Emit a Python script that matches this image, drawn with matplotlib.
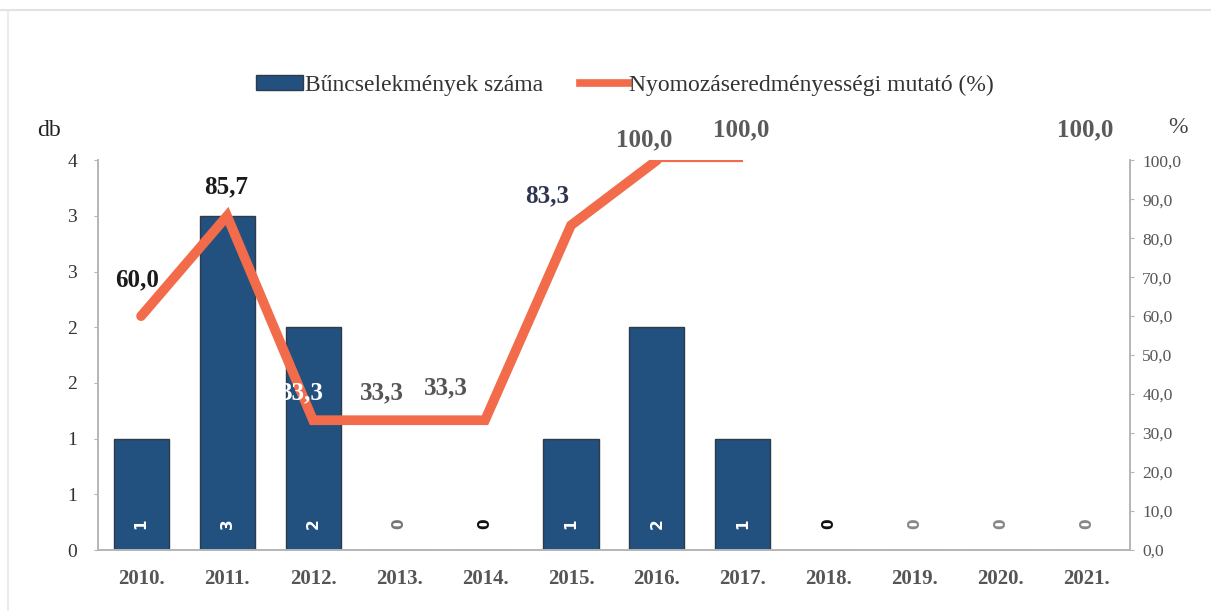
"""Bűncselekmények száma és nyomozáseredményességi mutató, 2010-2021."""

import numpy as np
import matplotlib

matplotlib.use("Agg")
import matplotlib.pyplot as plt
from matplotlib.lines import Line2D
from matplotlib.patches import Patch

years = ["2010.", "2011.", "2012.", "2013.", "2014.", "2015.",
         "2016.", "2017.", "2018.", "2019.", "2020.", "2021."]
counts = [1, 3, 2, 0, 0, 1, 2, 1, 0, 0, 0, 0]
rate = [60.0, 85.7, 33.3, 33.3, 33.3, 83.3, 100.0, 100.0,
        np.nan, np.nan, np.nan, 100.0]

left_ticks = [0, 0.5, 1.0, 1.5, 2.0, 2.5, 3.0, 3.5]
left_labels = ["0", "1", "1", "2", "2", "3", "3", "4"]
right_ticks = [0, 10, 20, 30, 40, 50, 60, 70, 80, 90, 100]

# label offsets (points) and colours for the rate labels
rate_offsets = [(-3, 26), (-1, 21), (-8, 20), (-12, 20), (-28, 23), (-17, 21),
                (-9, 15), (-1, 22), (0, 0), (0, 0), (0, 0), (-1, 22)]
rate_colors = ["#1a1a1a", "#1a1a1a", "white", "#555555", "#555555", "#2f3550",
               "#5a5a5a", "#5a5a5a", "k", "k", "k", "#5a5a5a"]
count_colors = ["white", "white", "white", "#777777", "#111111", "white",
                "white", "white", "#111111", "#888888", "#888888", "#888888"]

plt.rcParams.update({
    "font.family": ["Liberation Serif", "DejaVu Serif"],
    "font.size": 12,
})

bar_color = "#22507f"
line_color = "#f26b4a"
grey = "#b5b5b5"

fig = plt.figure(figsize=(12.11, 6.11), dpi=100)
ax = fig.add_axes([0.081, 0.0998, 0.852, 0.638])
ax2 = ax.twinx()

x = np.arange(len(years))
ax.bar(x, counts, width=0.64, color=bar_color, edgecolor="#2e3b4a",
       linewidth=1.0, zorder=2)

for xi, c, col in zip(x, counts, count_colors):
    ax.text(xi, 0.24, str(c), rotation=90, ha="center", va="center",
            color=col, fontsize=11, fontweight="bold", family="DejaVu Sans",
            zorder=4)

ax.set_xlim(-0.5, len(years) - 0.5)
ax.set_ylim(0, 3.5)
ax.set_yticks(left_ticks)
ax.set_yticklabels(left_labels)
ax.set_xticks(x)
ax.set_xticklabels(years, fontweight="bold", color="#555555", fontsize=15)
ax.tick_params(axis="x", length=0, pad=14)
ax.tick_params(axis="y", length=3, color=grey, labelcolor="#333333",
               labelsize=14, pad=12)

ax2.set_ylim(0, 100)
ax2.set_yticks(right_ticks)
ax2.set_yticklabels([f"{v:.1f}".replace(".", ",") for v in right_ticks])
ax2.tick_params(axis="y", length=3, color=grey, labelcolor="#555555",
                labelsize=12.5, pad=6)

for a in (ax, ax2):
    a.spines["top"].set_visible(False)
    for s in ("left", "right", "bottom"):
        a.spines[s].set_color(grey)
        a.spines[s].set_linewidth(1.2)

# thick line up to 2016, thinner segment 2016-2017
ax2.plot(x[:7], rate[:7], color=line_color, linewidth=7,
         solid_capstyle="round", solid_joinstyle="miter", zorder=3)
ax2.plot(x[6:8], rate[6:8], color=line_color, linewidth=3.0,
         solid_capstyle="butt", zorder=3)

for xi, v, off, col in zip(x, rate, rate_offsets, rate_colors):
    if np.isnan(v):
        continue
    ax2.annotate(f"{v:.1f}".replace(".", ","), (xi, v), xytext=off,
                 textcoords="offset points", ha="center", va="center",
                 fontsize=18, fontweight="bold", color=col, zorder=5,
                 annotation_clip=False)

fig.text(0.031, 0.787, "db", fontsize=17, color="#222222", ha="left",
         va="center")
fig.text(0.973, 0.792, "%", fontsize=17, color="#444444", ha="center",
         va="center")

handles = [Patch(facecolor=bar_color, edgecolor="#2e3b4a"),
           Line2D([0], [0], color=line_color, linewidth=5.5)]
fig.legend(handles, ["Bűncselekmények száma",
                     "Nyomozáseredményességi mutató (%)"],
           loc="center", bbox_to_anchor=(0.516, 0.861), ncol=2, frameon=False,
           fontsize=17, handlelength=2.0, handleheight=0.6, handletextpad=0.05,
           columnspacing=1.6, labelcolor="#333333")

# faint frame of the original figure box
fig.add_artist(Line2D([0.0, 1.0], [0.984, 0.984], color="#e2e2e2",
                      linewidth=1.5, transform=fig.transFigure))
fig.add_artist(Line2D([0.007, 0.007], [0.0, 0.984], color="#e8e8e8",
                      linewidth=1.2, transform=fig.transFigure))

fig.savefig("out.png", dpi=100)
